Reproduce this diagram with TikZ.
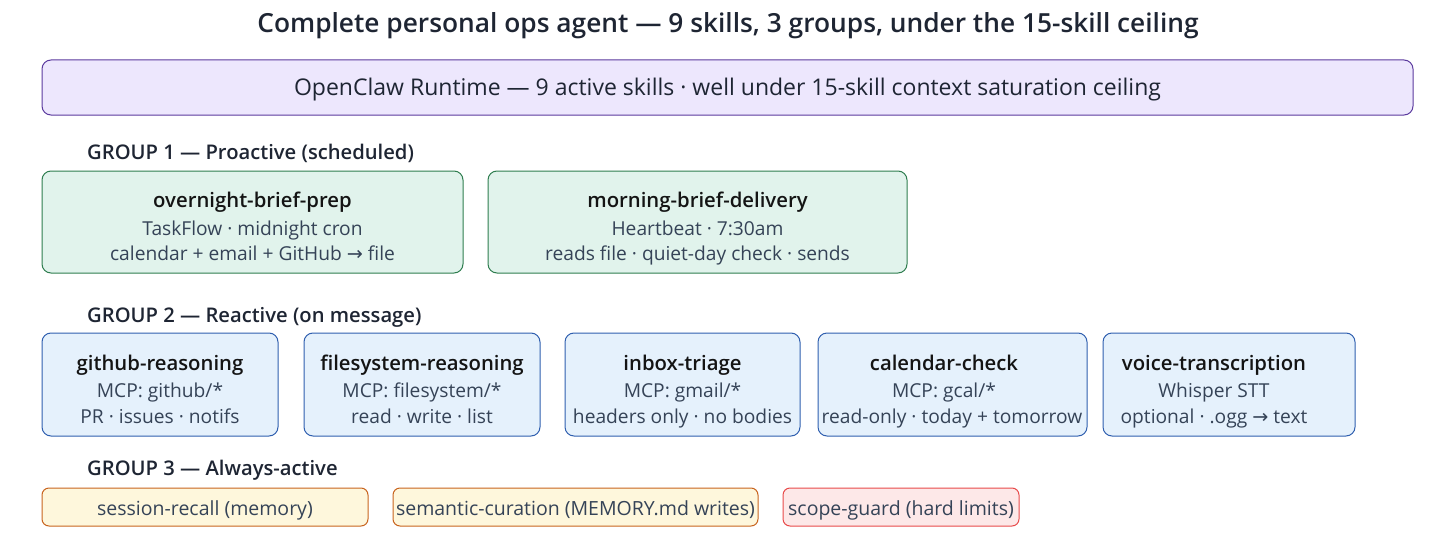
\documentclass[tikz,border=0pt]{standalone}
\usepackage{fontspec}
\setmainfont{Open Sans}
\newfontfamily\semib{Open Sans Semibold}
\newfontfamily\symf{DejaVu Sans}
\newcommand{\rarr}{{\symf →}}
\definecolor{ink}{HTML}{1E2533}
\definecolor{sub}{HTML}{354357}
\definecolor{rtfill}{HTML}{EDE7FD}
\definecolor{rtdraw}{HTML}{5B3A9E}
\definecolor{gfill}{HTML}{E1F3EC}
\definecolor{gdraw}{HTML}{2E7D4F}
\definecolor{bfill}{HTML}{E5F1FC}
\definecolor{bdraw}{HTML}{2F5FAF}
\definecolor{yfill}{HTML}{FEF7DC}
\definecolor{ydraw}{HTML}{C8641E}
\definecolor{rfill}{HTML}{FDE8E8}
\definecolor{rdraw}{HTML}{E84A4A}
\tikzset{
  box/.style={rectangle, rounded corners=9pt, line width=1pt, inner sep=0pt},
  sbox/.style={rectangle, rounded corners=7pt, line width=1pt, inner sep=0pt},
  ttl/.style={font=\semib\fontsize{20.3}{22}\selectfont, text=black!92, inner sep=0pt, anchor=base},
  txt/.style={font=\fontsize{19.2}{22}\selectfont, text=sub, inner sep=0pt, anchor=base},
  grp/.style={font=\semib\fontsize{20.2}{22}\selectfont, text=ink, inner sep=0pt, anchor=base west},
  btxt/.style={font=\fontsize{19.5}{22}\selectfont, text=sub, inner sep=0pt, anchor=base},
}
\begin{document}
\begin{tikzpicture}[x=1pt,y=-1pt]
\useasboundingbox (0,0) rectangle (1456,535);
% title
\node[font=\semib\fontsize{26.3}{28}\selectfont, text=ink, inner sep=0pt, anchor=base] (title) at (728,33) {Complete personal ops agent — 9 skills, 3 groups, under the 15-skill ceiling};
% runtime
\node[box, fill=rtfill, draw=rtdraw, minimum width=1371pt, minimum height=55pt] (rt) at (727.5,87.5) {};
\node[font=\fontsize{23}{26}\selectfont, text=ink, inner sep=0pt, anchor=base] (rtt) at (727.5,95.5) {OpenClaw Runtime — 9 active skills · well under 15-skill context saturation ceiling};
% group 1
\node[grp] (g1) at (87,159) {GROUP 1 — Proactive (scheduled)};
\node[box, fill=gfill, draw=gdraw, minimum width=421pt, minimum height=102pt] (ob) at (252.5,222) {};
\node[ttl] (obt) at (252.5,207) {overnight-brief-prep};
\node[txt] (ob2) at (252.5,235) {TaskFlow · midnight cron};
\node[txt] (ob3) at (252.5,260) {calendar + email + GitHub \rarr{} file};
\node[box, fill=gfill, draw=gdraw, minimum width=419pt, minimum height=102pt] (mb) at (697.5,222) {};
\node[ttl] (mbt) at (697.5,207) {morning-brief-delivery};
\node[txt] (mb2) at (697.5,235) {Heartbeat · 7:30am};
\node[txt] (mb3) at (697.5,260) {reads file · quiet-day check · sends};
% group 2
\node[grp] (g2) at (87,322) {GROUP 2 — Reactive (on message)};
\node[box, fill=bfill, draw=bdraw, minimum width=236pt, minimum height=103pt] (gh) at (160,384.5) {};
\node[ttl] (ght) at (160,370) {github-reasoning};
\node[txt] (gh2) at (160,397) {MCP: github/*};
\node[txt] (gh3) at (160,423) {PR · issues · notifs};
\node[box, fill=bfill, draw=bdraw, minimum width=236pt, minimum height=103pt] (fs) at (422,384.5) {};
\node[ttl] (fst) at (422,370) {filesystem-reasoning};
\node[txt] (fs2) at (422,397) {MCP: filesystem/*};
\node[txt] (fs3) at (422,423) {read · write · list};
\node[box, fill=bfill, draw=bdraw, minimum width=235pt, minimum height=103pt] (ib) at (682.5,384.5) {};
\node[ttl] (ibt) at (682.5,370) {inbox-triage};
\node[txt] (ib2) at (682.5,397) {MCP: gmail/*};
\node[txt] (ib3) at (682.5,423) {headers only · no bodies};
\node[box, fill=bfill, draw=bdraw, minimum width=269pt, minimum height=103pt] (cc) at (952.5,384.5) {};
\node[ttl] (cct) at (944,370) {calendar-check};
\node[txt] (cc2) at (944,397) {MCP: gcal/*};
\node[txt] (cc3) at (952,423) {read-only · today + tomorrow};
\node[box, fill=bfill, draw=bdraw, minimum width=252pt, minimum height=103pt] (vt) at (1229,384.5) {};
\node[ttl] (vtt) at (1214,370) {voice-transcription};
\node[txt] (vt2) at (1214,397) {Whisper STT};
\node[txt] (vt3) at (1214,423) {optional · .ogg \rarr{} text};
% group 3
\node[grp] (g3) at (87,475) {GROUP 3 — Always-active};
\node[sbox, fill=yfill, draw=ydraw, minimum width=326pt, minimum height=38pt] (sr) at (205,507) {};
\node[btxt] (srt) at (205,515) {session-recall (memory)};
\node[sbox, fill=yfill, draw=ydraw, minimum width=365pt, minimum height=38pt] (sc) at (575.5,507) {};
\node[btxt] (sct) at (575.5,515) {semantic-curation (MEMORY.md writes)};
\node[sbox, fill=rfill, draw=rdraw, minimum width=236pt, minimum height=38pt] (sg) at (901,507) {};
\node[btxt] (sgt) at (901,515) {scope-guard (hard limits)};
\end{tikzpicture}
\end{document}
